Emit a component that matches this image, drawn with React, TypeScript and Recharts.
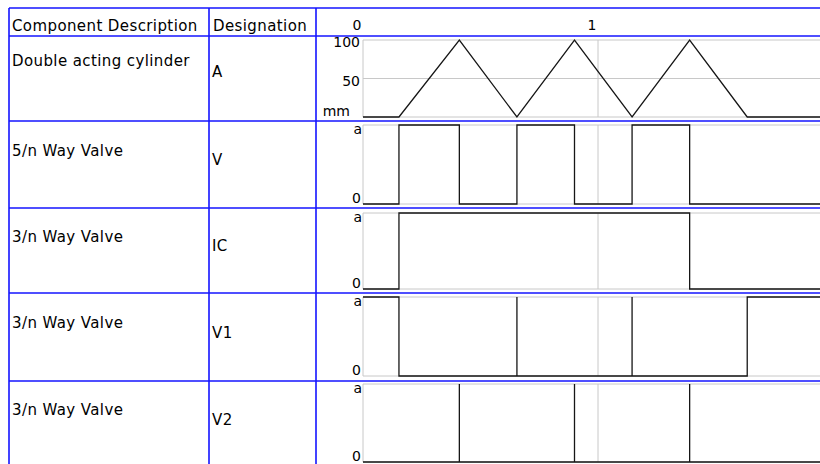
import React from 'react';
import { LineChart, Line, XAxis, YAxis, CartesianGrid } from 'recharts';

// ---- data ----
const headerCols = ['Component Description', 'Designation'];
const descriptions = ['Double acting cylinder', '5/n Way Valve', '3/n Way Valve', '3/n Way Valve', '3/n Way Valve'];
const designations = ['A', 'V', 'IC', 'V1', 'V2'];

const timeTicks = [0, 1];
const timeTickLabels = ['0', '1'];

const cylTime = [0, 0.153, 0.41, 0.655, 0.9, 1.145, 1.39, 1.635, 2];
const cylPos = [0, 0, 100, 0, 100, 0, 100, 0, 0];
const cylTicks = [0, 50, 100];
const cylTickLabels = ['mm', '50', '100'];

const vTime = [0, 0.153, 0.41, 0.655, 0.9, 1.145, 1.39, 2];
const vState = [0, 1, 0, 1, 0, 1, 0, 0];

const icTime = [0, 0.153, 1.39, 2];
const icState = [0, 1, 0, 0];

const v1Time = [0, 0.153, 0.655, 0.655, 1.145, 1.145, 1.635, 2];
const v1State = [1, 0, 1, 0, 1, 0, 1, 1];

const v2Time = [0, 0.41, 0.41, 0.9, 0.9, 1.39, 1.39, 2];
const v2State = [0, 1, 0, 1, 0, 1, 0, 0];

const digitalTicks = [0, 1];
const digitalTickLabels = ['0', 'a'];

const zip = (ts: number[], vs: number[]) => ts.map((t, i) => ({ t, v: vs[i] }));

// ---- styles ----
const FONT = '"DejaVu Sans", sans-serif';
const BLUE = '#1414ff';
const GRID = '#c8c8c8';
const INK = '#161616';

const CHART_W = 833;
const MARGIN_LEFT = 308;
const YAXIS_W = 55;

const CylTick = (p: any) => {
  const i = cylTicks.indexOf(p.payload.value);
  const label = cylTickLabels[i];
  if (p.payload.value === 0) {
    return (
      <text x={p.x - 13} y={p.y - 1} textAnchor="end" fontFamily={FONT} fontSize={14} fill="#000">
        {label}
      </text>
    );
  }
  return (
    <text x={p.x - 3} y={p.y + 7} textAnchor="end" fontFamily={FONT} fontSize={14} fill="#000">
      {label}
    </text>
  );
};

const DigTick = (p: any) => {
  const i = digitalTicks.indexOf(p.payload.value);
  const label = digitalTickLabels[i];
  const top = p.payload.value === 1;
  return (
    <text x={p.x - (top ? 1 : 2)} y={top ? p.y + 9 : p.y - 1} textAnchor="end" fontFamily={FONT} fontSize={14} fill="#000">
      {label}
    </text>
  );
};

const TimeTick = (p: any) => {
  const i = timeTicks.indexOf(p.payload.value);
  return (
    <text x={p.x - 6} y={p.y - 10} textAnchor="middle" fontFamily={FONT} fontSize={14} fill="#000">
      {timeTickLabels[i]}
    </text>
  );
};

type RowProps = {
  top: number;
  height: number;
  mTop: number;
  mBottom: number;
  data: { t: number; v: number }[];
  digital: boolean;
  header?: boolean;
};

const Row = ({ top, height, mTop, mBottom, data, digital, header }: RowProps) => (
  <div style={{ position: 'absolute', left: 0, top, width: CHART_W, height }}>
    <LineChart
      width={CHART_W}
      height={height}
      data={data}
      margin={{ top: mTop, right: 0, bottom: mBottom, left: MARGIN_LEFT }}
    >
      <CartesianGrid stroke={GRID} strokeWidth={1} />
      <XAxis
        dataKey="t"
        type="number"
        domain={[0, 2]}
        ticks={timeTicks}
        orientation="top"
        hide={!header}
        height={header ? 32 : 0}
        axisLine={false}
        tickLine={false}
        tickSize={0}
        tickMargin={0}
        tick={<TimeTick />}
        interval={0}
      />
      <YAxis
        type="number"
        domain={digital ? [0, 1] : [0, 100]}
        ticks={digital ? digitalTicks : cylTicks}
        width={YAXIS_W}
        axisLine={false}
        tickLine={false}
        tickSize={0}
        tickMargin={0}
        interval={0}
        tick={digital ? <DigTick /> : <CylTick />}
      />
      <Line
        dataKey="v"
        type={digital ? 'stepAfter' : 'linear'}
        stroke={INK}
        strokeWidth={1.3}
        dot={false}
        activeDot={false}
        isAnimationActive={false}
      />
    </LineChart>
  </div>
);

const rowLinesY = [8, 36, 121, 208, 293, 381];
const colLinesX = [9, 209, 316];
const descBaselines = [66, 156, 242, 328, 415];
const desigBaselines = [77, 165, 251, 338, 425];

export default function App() {
  return (
    <div
      style={{
        position: 'absolute',
        left: 0,
        top: 0,
        width: 820,
        height: 464,
        overflow: 'hidden',
        background: '#fff',
      }}
    >
      <Row top={8} height={113} mTop={0} mBottom={4} data={zip(cylTime, cylPos)} digital={false} header />
      <Row top={121} height={87} mTop={4} mBottom={4} data={zip(vTime, vState)} digital />
      <Row top={208} height={85} mTop={5} mBottom={4} data={zip(icTime, icState)} digital />
      <Row top={293} height={88} mTop={4} mBottom={5} data={zip(v1Time, v1State)} digital />
      <Row top={381} height={83} mTop={3} mBottom={2} data={zip(v2Time, v2State)} digital />
      <svg
        width={820}
        height={464}
        style={{ position: 'absolute', left: 0, top: 0, pointerEvents: 'none' }}
      >
        {rowLinesY.map((y) => (
          <line key={'h' + y} x1={colLinesX[0]} x2={820} y1={y} y2={y} stroke={BLUE} strokeWidth={1.6} />
        ))}
        {colLinesX.map((x) => (
          <line key={'v' + x} x1={x} x2={x} y1={rowLinesY[0]} y2={464} stroke={BLUE} strokeWidth={1.6} />
        ))}
        <g fontFamily={FONT} fontSize={15} fill="#000" letterSpacing={0.4}>
          <text x={12} y={31}>{headerCols[0]}</text>
          <text x={213} y={31}>{headerCols[1]}</text>
          {descriptions.map((d, i) => (
            <text key={'d' + i} x={12} y={descBaselines[i]}>{d}</text>
          ))}
          {designations.map((d, i) => (
            <text key={'g' + i} x={212} y={desigBaselines[i]}>{d}</text>
          ))}
        </g>
      </svg>
    </div>
  );
}
